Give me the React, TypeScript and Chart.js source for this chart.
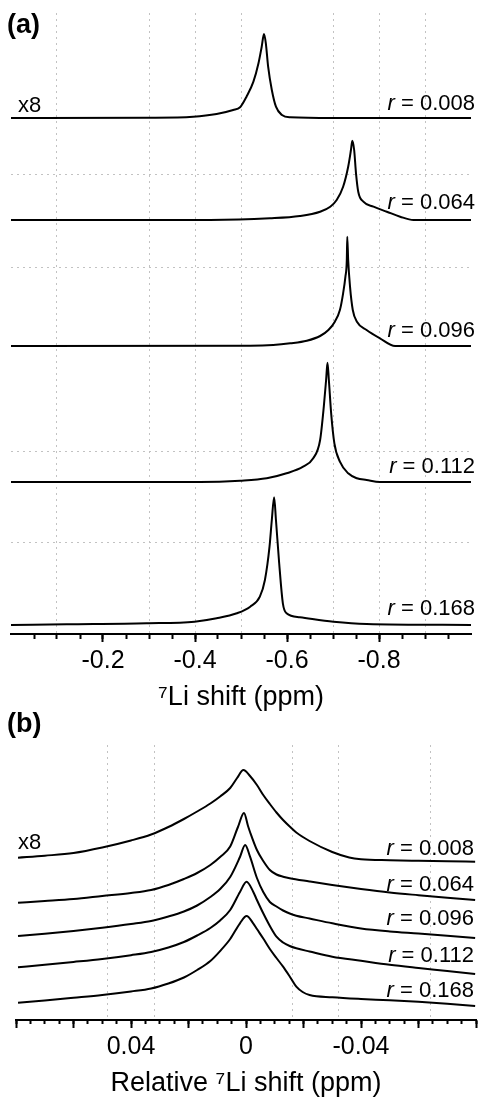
import React, { useEffect, useRef } from 'react';
import { Chart, registerables } from 'chart.js';

Chart.register(...registerables);

const FONT = '"Liberation Sans", Arial, Helvetica, sans-serif';
const INK = '#000000';
const GRID_COLOR = '#c2c2c2';

const R_VALUES = ['0.008', '0.064', '0.096', '0.112', '0.168'];
const SCALE_NOTE = 'x8';

// ---------------- Panel (a): 7Li shift (ppm) ----------------
const A_X_MIN = -1.0;
const A_X_MAX = 0;
const A_Y_MAX = 621;
const A_MAJOR_TICKS = [-0.2, -0.4, -0.6, -0.8];
const A_MINOR_TICKS = [-0.05, -0.1, -0.15, -0.2, -0.25, -0.3, -0.35, -0.4, -0.45, -0.5, -0.55, -0.6, -0.65, -0.7, -0.75, -0.8, -0.85, -0.9, -0.95];
const A_GRID_X = [-0.1, -0.3, -0.4, -0.5, -0.7, -0.8, -0.9];
const A_GRID_Y = [92, 183, 367, 460];
const A_OFFSETS = [516, 414, 288, 152, 9];
const A_LABEL_Y = [524, 425, 297, 161, 19];
const A_NOTE_Y = 522;

const A_008_PPM = [0, -0.3, -0.396, -0.447, -0.483, -0.498, -0.512, -0.527, -0.538, -0.545, -0.55, -0.554, -0.559, -0.567, -0.576, -0.589, -0.607, -0.7, -1.0];
const A_008_INT = [0, 0.3, 1.3, 4, 8, 10.7, 21.3, 36.3, 54.7, 71.3, 84, 74.7, 51.3, 28, 11.3, 3, 0.7, 0, 0];

const A_064_PPM = [0, -0.433, -0.563, -0.628, -0.672, -0.694, -0.708, -0.722, -0.733, -0.739, -0.742, -0.746, -0.75, -0.755, -0.766, -0.788, -0.817, -0.846, -0.875, -1.0];
const A_064_INT = [0, 0, 1.7, 4, 8.3, 13.3, 20, 33.3, 53.3, 70, 79.3, 70, 46.7, 28, 18.3, 13.3, 8.3, 3.3, 0, 0];

const A_096_PPM = [0, -0.52, -0.57, -0.607, -0.643, -0.672, -0.69, -0.704, -0.715, -0.722, -0.727, -0.73, -0.731, -0.733, -0.737, -0.743, -0.752, -0.773, -0.802, -0.835, -1.0];
const A_096_INT = [0, 0.3, 1, 2.7, 5.3, 10, 16, 24.3, 36, 52.7, 69.3, 86, 109.3, 86, 59.3, 36, 24.3, 16, 7.7, 0, 0];

const A_112_PPM = [0, -0.411, -0.498, -0.556, -0.599, -0.635, -0.657, -0.672, -0.68, -0.685, -0.688, -0.691, -0.696, -0.703, -0.715, -0.733, -0.752, -0.773, -0.802, -1.0];
const A_112_INT = [0, 0, 1.3, 3.7, 8.7, 15.3, 23.7, 42, 75.3, 102, 119.3, 102, 68.7, 38.7, 20.3, 8.7, 3.7, 2, 0, 0];

const A_168_PPM = [0, -0.121, -0.295, -0.399, -0.447, -0.491, -0.52, -0.541, -0.552, -0.562, -0.567, -0.572, -0.576, -0.583, -0.591, -0.599, -0.628, -0.701, -0.773, -1.0];
const A_168_INT = [0, 0.7, 1.7, 3.3, 6.7, 11.7, 18.3, 28.3, 45, 78.3, 105, 127.7, 105, 61.7, 21.7, 11.7, 7.7, 3.3, 1, 0];

// ---------------- Panel (b): relative 7Li shift (ppm) ----------------
const B_X_MIN = -0.08;
const B_X_MAX = 0.08;
const B_Y_MAX = 275;
const B_MAJOR_TICKS = [0.08, 0.06, 0.04, 0.02, 0, -0.02, -0.04, -0.06, -0.08];
const B_LABELLED_TICKS = [0.04, 0, -0.04];
const B_MINOR_STEP_COUNT = 32;
const B_GRID_X = [0.048, 0.032, -0.016, -0.032, -0.064];
const B_OFFSETS = [158, 117, 82, 46, 14];
const B_LABEL_Y = [165, 129, 95, 58, 23];
const B_NOTE_Y = 171;

const B_008_PPM = [0.0793, 0.07, 0.06, 0.05, 0.04, 0.033, 0.027, 0.0216, 0.017, 0.0124, 0.009, 0.0055, 0.0031, 0.0009, -0.0014, -0.0038, -0.006, -0.0083, -0.0106, -0.0129, -0.0152, -0.0175, -0.0221, -0.03, -0.0359, -0.04, -0.05, -0.06, -0.07, -0.0797];
const B_008_INT = [4.3, 6.3, 9, 14.5, 21.5, 27.5, 35, 43, 50.5, 58.5, 65.5, 74, 84, 92, 86, 77, 67, 58, 49.5, 42, 35.5, 29.5, 21, 10, 4.5, 2.8, 1.8, 1.2, 0.7, 0.3];

const B_064_PPM = [0.0793, 0.07, 0.06, 0.05, 0.04, 0.033, 0.027, 0.0216, 0.017, 0.0124, 0.009, 0.0055, 0.0028, 0.0007, -0.0007, -0.0014, -0.0038, -0.006, -0.0083, -0.0106, -0.0129, -0.0152, -0.0221, -0.03, -0.04, -0.05, -0.06, -0.07, -0.0797];
const B_064_INT = [0.3, 2, 4, 7, 10, 13, 18, 24, 30, 38, 46, 56.5, 76, 90, 77, 71, 53, 42, 33, 28.5, 26.3, 24.7, 21.5, 18, 14, 10.5, 7.8, 5.3, 3];

const B_096_PPM = [0.0793, 0.07, 0.06, 0.05, 0.04, 0.033, 0.027, 0.0216, 0.017, 0.0124, 0.009, 0.0055, 0.0021, 0.0003, -0.0014, -0.0038, -0.006, -0.0083, -0.0106, -0.0129, -0.0152, -0.0175, -0.0221, -0.03, -0.04, -0.05, -0.06, -0.07, -0.0797];
const B_096_INT = [2, 4.2, 7, 10.3, 14, 17, 21.5, 26.5, 32.5, 41, 49, 61, 81, 93, 81.3, 60, 46, 36, 31.5, 27.5, 24.5, 22.3, 19.5, 14.7, 9.5, 6.5, 4.5, 2.3, 0];

const B_112_PPM = [0.0793, 0.07, 0.06, 0.05, 0.04, 0.033, 0.027, 0.0216, 0.017, 0.0124, 0.009, 0.0055, 0.0021, -0.0002, -0.0025, -0.0038, -0.006, -0.0083, -0.0106, -0.0129, -0.0152, -0.0175, -0.0221, -0.03, -0.04, -0.05, -0.06, -0.07, -0.0797];
const B_112_INT = [6.7, 9.2, 12, 15, 18.8, 22, 26.5, 32, 38.5, 46, 53.5, 64, 82, 92.3, 82.3, 74, 60.7, 48, 37.3, 31.5, 28, 25.7, 22.5, 17.3, 13.2, 9.2, 6, 3, 0];

const B_168_PPM = [0.0793, 0.07, 0.06, 0.05, 0.04, 0.033, 0.027, 0.0216, 0.017, 0.0124, 0.009, 0.0055, 0.0021, -0.0002, -0.0025, -0.0038, -0.006, -0.0083, -0.0106, -0.0129, -0.0152, -0.0175, -0.0197, -0.0221, -0.03, -0.04, -0.05, -0.06, -0.07, -0.0797];
const B_168_INT = [3.3, 5.5, 8.2, 11, 14.5, 17.5, 22.5, 28.5, 36, 45, 55, 67, 82.7, 90, 82.7, 77, 67.5, 57, 48, 39.3, 29.5, 19.3, 14, 11, 8.7, 7, 5.8, 4.2, 2.3, 0];

const near = (a: number, b: number) => Math.abs(a - b) < 1e-9;

const B_MINOR_TICKS = Array.from({ length: B_MINOR_STEP_COUNT + 1 }, (_, i) => Math.round((B_X_MAX - i * 0.005) * 1000) / 1000);

type PanelCfg = {
  letter: string;
  letterPos: [number, number];
  xMin: number;
  xMax: number;
  yMax: number;
  majorTicks: number[];
  minorTicks: number[];
  gridX: number[];
  gridY: number[] | null;
  tickLabel: (v: number) => string;
  title: string;
  offsets: number[];
  series: { ppm: number[]; int: number[] }[];
  labelY: number[];
  labelRight: number;
  noteY: number;
  noteDx: number;
  padding: { left: number; right: number; top: number; bottom: number };
  axisHeight: number;
  minorLen: number;
};

function textPlugin(cfg: PanelCfg) {
  return {
    id: 'panelText',
    afterDatasetsDraw(chart: any) {
      const { ctx, scales } = chart;
      const xs = scales.x;
      const ys = scales.y;
      ctx.save();
      ctx.fillStyle = INK;
      ctx.textBaseline = 'alphabetic';
      ctx.textAlign = 'left';
      ctx.font = `bold 27px ${FONT}`;
      ctx.fillText(cfg.letter, cfg.letterPos[0], cfg.letterPos[1]);
      const fs = 22;
      R_VALUES.forEach((r, i) => {
        const y = ys.getPixelForValue(cfg.labelY[i]);
        const right = xs.right + cfg.labelRight;
        ctx.font = `${fs}px ${FONT}`;
        const rest = ' = ' + r;
        const wRest = ctx.measureText(rest).width;
        ctx.fillText(rest, right - wRest, y);
        ctx.font = `italic ${fs}px ${FONT}`;
        const wR = ctx.measureText('r').width;
        ctx.fillText('r', right - wRest - wR, y);
      });
      ctx.font = `${fs}px ${FONT}`;
      ctx.fillText(SCALE_NOTE, xs.left + cfg.noteDx, ys.getPixelForValue(cfg.noteY));
      ctx.restore();
    },
  };
}

function makeChart(canvas: HTMLCanvasElement, cfg: PanelCfg) {
  const datasets = cfg.series.map((s, i) => ({
    data: s.ppm.map((x, j) => ({ x, y: cfg.offsets[i] + s.int[j] })),
    borderColor: INK,
    borderWidth: 2,
    pointRadius: 0,
    pointHoverRadius: 0,
    fill: false,
    cubicInterpolationMode: 'monotone',
    xAxisID: 'x',
    yAxisID: 'y',
  }));
  const base = { type: 'linear', min: cfg.xMin, max: cfg.xMax, reverse: true, position: 'bottom' };
  const yScale: any = {
    type: 'linear',
    min: 0,
    max: cfg.yMax,
    display: !!cfg.gridY,
    position: 'left',
    ticks: { display: false },
    grid: { display: true, drawTicks: false, color: GRID_COLOR, lineWidth: 1 },
    border: { display: false, dash: [2, 4] },
    afterBuildTicks: (s: any) => {
      s.ticks = (cfg.gridY || []).map((v) => ({ value: v }));
    },
    afterFit: (s: any) => {
      s.width = 0;
    },
  };
  const config: any = {
    type: 'line',
    data: { datasets },
    options: {
      responsive: false,
      animation: false,
      events: [],
      layout: { padding: cfg.padding },
      plugins: { legend: { display: false }, tooltip: { enabled: false } },
      scales: {
        xGrid: {
          ...base,
          weight: 0,
          ticks: { display: false },
          grid: {
            display: true,
            drawTicks: false,
            drawOnChartArea: true,
            color: GRID_COLOR,
            lineWidth: 1,
          },
          border: { display: false, dash: [2, 4] },
          afterBuildTicks: (s: any) => {
            s.ticks = cfg.gridX.map((v) => ({ value: v }));
          },
          afterFit: (s: any) => {
            s.height = 0;
          },
        },
        xMinor: {
          ...base,
          weight: 1,
          ticks: { display: false },
          grid: {
            display: true,
            drawTicks: true,
            drawOnChartArea: false,
            tickLength: cfg.minorLen,
            tickWidth: 2,
            tickColor: INK,
            color: INK,
          },
          border: { display: false },
          afterBuildTicks: (s: any) => {
            s.ticks = cfg.minorTicks.map((v) => ({ value: v }));
          },
          afterFit: (s: any) => {
            s.height = 0;
          },
        },
        x: {
          ...base,
          weight: 2,
          ticks: {
            display: true,
            autoSkip: false,
            maxRotation: 0,
            minRotation: 0,
            padding: 4,
            color: INK,
            font: { family: FONT, size: 25 },
            callback: (v: number) => cfg.tickLabel(v),
          },
          grid: {
            display: true,
            drawTicks: true,
            drawOnChartArea: false,
            tickLength: 8,
            tickWidth: 2,
            tickColor: INK,
            color: INK,
          },
          border: { display: true, width: 2, color: INK },
          title: {
            display: true,
            text: cfg.title,
            color: INK,
            font: { family: FONT, size: 27, lineHeight: 1 },
            padding: { top: 0, bottom: 0 },
          },
          afterBuildTicks: (s: any) => {
            s.ticks = cfg.majorTicks.map((v) => ({ value: v }));
          },
          afterFit: (s: any) => {
            s.height = cfg.axisHeight;
          },
        },
        y: yScale,
      },
    },
    plugins: [textPlugin(cfg)],
  };
  return new Chart(canvas, config);
}

const PANEL_A: PanelCfg = {
  letter: '(a)',
  letterPos: [7, 33],
  xMin: A_X_MIN,
  xMax: A_X_MAX,
  yMax: A_Y_MAX,
  majorTicks: A_MAJOR_TICKS,
  minorTicks: A_MINOR_TICKS,
  gridX: A_GRID_X,
  gridY: A_GRID_Y,
  tickLabel: (v) => (A_MAJOR_TICKS.some((t) => near(t, v)) ? v.toFixed(1) : ''),
  title: '\u2077Li shift (ppm)',
  offsets: A_OFFSETS,
  series: [
    { ppm: A_008_PPM, int: A_008_INT },
    { ppm: A_064_PPM, int: A_064_INT },
    { ppm: A_096_PPM, int: A_096_INT },
    { ppm: A_112_PPM, int: A_112_INT },
    { ppm: A_168_PPM, int: A_168_INT },
  ],
  labelY: A_LABEL_Y,
  labelRight: 4,
  noteY: A_NOTE_Y,
  noteDx: 7,
  padding: { left: 11, right: 9, top: 13, bottom: 0 },
  axisHeight: 77,
  minorLen: 5,
};

const PANEL_B: PanelCfg = {
  letter: '(b)',
  letterPos: [7, 21],
  xMin: B_X_MIN,
  xMax: B_X_MAX,
  yMax: B_Y_MAX,
  majorTicks: B_MAJOR_TICKS,
  minorTicks: B_MINOR_TICKS,
  gridX: B_GRID_X,
  gridY: null,
  tickLabel: (v) => (B_LABELLED_TICKS.some((t) => near(t, v)) ? (near(v, 0) ? '0' : v.toFixed(2)) : ''),
  title: 'Relative \u2077Li shift (ppm)',
  offsets: B_OFFSETS,
  series: [
    { ppm: B_008_PPM, int: B_008_INT },
    { ppm: B_064_PPM, int: B_064_INT },
    { ppm: B_096_PPM, int: B_096_INT },
    { ppm: B_112_PPM, int: B_112_INT },
    { ppm: B_168_PPM, int: B_168_INT },
  ],
  labelY: B_LABEL_Y,
  labelRight: -2,
  noteY: B_NOTE_Y,
  noteDx: 2,
  padding: { left: 16, right: 3, top: 34, bottom: 0 },
  axisHeight: 77,
  minorLen: 4,
};

export default function App() {
  const refA = useRef<HTMLCanvasElement | null>(null);
  const refB = useRef<HTMLCanvasElement | null>(null);

  useEffect(() => {
    const a = makeChart(refA.current as HTMLCanvasElement, PANEL_A);
    const b = makeChart(refB.current as HTMLCanvasElement, PANEL_B);
    return () => {
      a.destroy();
      b.destroy();
    };
  }, []);

  return (
    <div style={{ position: 'absolute', left: 0, top: 0, width: 480, height: 1097, background: '#fff' }}>
      <canvas
        ref={refA}
        width={480}
        height={711}
        style={{ position: 'absolute', left: 0, top: 0, width: 480, height: 711 }}
      />
      <canvas
        ref={refB}
        width={480}
        height={386}
        style={{ position: 'absolute', left: 0, top: 711, width: 480, height: 386 }}
      />
    </div>
  );
}
